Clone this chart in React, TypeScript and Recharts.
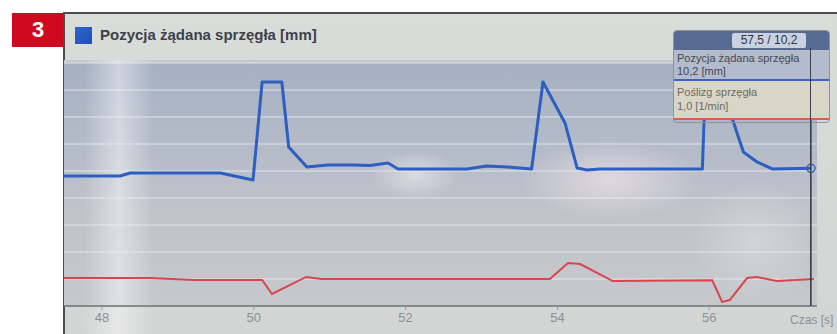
import { CartesianGrid, Line, LineChart, ReferenceDot, ReferenceLine, XAxis, YAxis } from "recharts";

const timeDomain: [number, number] = [47.5, 57.42];
const timeTicks = [48, 50, 52, 54, 56];
const positionTicks = [0, 2, 4, 6, 8, 10, 12, 14, 16, 18];

// Pozycja żądana sprzęgła [mm]
const positionSeries = [
  { t: 47.5, v: 9.63 },
  { t: 48.24, v: 9.63 },
  { t: 48.37, v: 9.85 },
  { t: 49.56, v: 9.85 },
  { t: 49.99, v: 9.33 },
  { t: 50.11, v: 16.59 },
  { t: 50.37, v: 16.59 },
  { t: 50.46, v: 11.78 },
  { t: 50.58, v: 11.04 },
  { t: 50.7, v: 10.3 },
  { t: 50.97, v: 10.44 },
  { t: 51.31, v: 10.44 },
  { t: 51.53, v: 10.4 },
  { t: 51.77, v: 10.59 },
  { t: 51.9, v: 10.15 },
  { t: 52.81, v: 10.15 },
  { t: 53.07, v: 10.37 },
  { t: 53.34, v: 10.3 },
  { t: 53.66, v: 10.15 },
  { t: 53.81, v: 16.59 },
  { t: 54.1, v: 13.56 },
  { t: 54.26, v: 10.22 },
  { t: 54.39, v: 10.07 },
  { t: 54.56, v: 10.15 },
  { t: 55.84, v: 10.15 },
  { t: 55.91, v: 10.15 },
  { t: 55.95, v: 16.6 },
  { t: 56.14, v: 16.6 },
  { t: 56.31, v: 13.78 },
  { t: 56.45, v: 11.41 },
  { t: 56.63, v: 10.67 },
  { t: 56.83, v: 10.15 },
  { t: 57.34, v: 10.2 },
];

// Poślizg sprzęgła [1/min]
const slipSeries = [
  { t: 47.5, v: 1.07 },
  { t: 48.63, v: 1.07 },
  { t: 49.21, v: 0.93 },
  { t: 50.11, v: 0.93 },
  { t: 50.24, v: -0.11 },
  { t: 50.69, v: 1.15 },
  { t: 50.89, v: 1.0 },
  { t: 53.9, v: 1.0 },
  { t: 54.14, v: 2.19 },
  { t: 54.3, v: 2.11 },
  { t: 54.73, v: 0.85 },
  { t: 56.04, v: 0.9 },
  { t: 56.17, v: -0.7 },
  { t: 56.27, v: -0.56 },
  { t: 56.5, v: 1.07 },
  { t: 56.63, v: 1.15 },
  { t: 56.89, v: 0.85 },
  { t: 57.38, v: 1.0 },
];

const cursorTime = 57.34;
const cursorValue = 10.2;
const cursorLabel = "57,5 / 10,2";
const badge = "3";
const title = "Pozycja żądana sprzęgła [mm]";
const positionTitle = "Pozycja żądana sprzęgła";
const slipTitle = "Poślizg sprzęgła";
const positionReadout = "10,2 [mm]";
const slipReadout = "1,0 [1/min]";
const axisTitle = "Czas [s]";

const FONT = "'Liberation Sans', Arial, sans-serif";
const PLOT = { left: 64, top: 63, right: 817, bottom: 306 };

const cursorX =
  PLOT.left + ((cursorTime - timeDomain[0]) / (timeDomain[1] - timeDomain[0])) * (PLOT.right - PLOT.left);

export default function App() {
  return (
    <div style={{ position: "fixed", left: 0, top: 0, width: 837, height: 334, background: "#fff", overflow: "hidden", fontFamily: FONT }}>
      <div style={{ position: "absolute", left: 12, top: 13, width: 52, height: 34, background: "#cf0a1f", color: "#fff", fontWeight: 700, fontSize: 22, lineHeight: "34px", textAlign: "center" }}>
        {badge}
      </div>

      {/* screen frame */}
      <div style={{ position: "absolute", left: 63, top: 12, width: 780, height: 330, background: "linear-gradient(#dadcd9, #d2d5d3)", borderTop: "2px solid #4c4c4c", borderLeft: "2px solid #4c4c4c" }} />

      <div style={{ position: "absolute", left: 75, top: 27, width: 17, height: 17, background: "linear-gradient(135deg, #2f63cf, #1f4fb8)" }} />
      <div style={{ position: "absolute", left: 100, top: 26, fontSize: 15, fontWeight: 700, color: "#3c414b", whiteSpace: "nowrap" }}>{title}</div>

      {/* plot background */}
      <div style={{ position: "absolute", left: PLOT.left, top: PLOT.top - 3, width: PLOT.right - PLOT.left, height: 3, background: "#c4c8cc" }} />
      <div style={{ position: "absolute", left: PLOT.left, top: PLOT.top, width: PLOT.right - PLOT.left, height: PLOT.bottom - PLOT.top, background: "linear-gradient(#a6b0c2 0%, #b2bac8 30%, #bfc3ca 60%, #c6c8cc 100%)" }} />

      {/* photo glare */}
      <div style={{ position: "absolute", left: 84, top: 60, width: 70, height: 274, background: "linear-gradient(90deg, rgba(255,255,255,0), rgba(255,255,255,0.45) 50%, rgba(255,255,255,0))" }} />
      <div style={{ position: "absolute", left: 520, top: 140, width: 180, height: 80, background: "radial-gradient(ellipse at center, rgba(250,232,240,0.6), rgba(250,232,240,0) 70%)" }} />
      <div style={{ position: "absolute", left: 370, top: 150, width: 90, height: 50, background: "radial-gradient(ellipse at center, rgba(255,255,255,0.45), rgba(255,255,255,0) 70%)" }} />
      <div style={{ position: "absolute", left: 690, top: 180, width: 130, height: 120, background: "radial-gradient(ellipse at center, rgba(235,235,232,0.4), rgba(235,235,232,0) 70%)" }} />

      <div style={{ position: "absolute", left: 0, top: 0 }}>
        <LineChart width={837} height={334} margin={{ top: PLOT.top, left: PLOT.left, right: 837 - PLOT.right, bottom: 0 }}>
          <CartesianGrid yAxisId="pos" vertical={false} stroke="#e8ecf2" strokeOpacity={0.85} strokeWidth={1.2} />
          <XAxis
            type="number"
            dataKey="t"
            domain={timeDomain}
            ticks={timeTicks}
            allowDataOverflow
            height={28}
            axisLine={{ stroke: "#6a6e72", strokeWidth: 1.5 }}
            tickLine={{ stroke: "#9a9ea2" }}
            tickSize={4}
            tickMargin={3}
            tick={{ fill: "#8c9196", fontSize: 13, fontFamily: FONT }}
          />
          <YAxis yAxisId="pos" hide domain={[0, 18]} ticks={positionTicks} allowDataOverflow />
          <YAxis yAxisId="slip" hide orientation="right" domain={[-1, 17]} allowDataOverflow />
          <Line yAxisId="slip" data={slipSeries} dataKey="v" type="linear" stroke="#d8454f" strokeWidth={2} dot={false} isAnimationActive={false} />
          <Line yAxisId="pos" data={positionSeries} dataKey="v" type="linear" stroke="#2e5ec0" strokeWidth={3} strokeLinejoin="round" dot={false} isAnimationActive={false} />
          <ReferenceLine yAxisId="pos" x={cursorTime} stroke="#3d4048" strokeWidth={1.5} />
          <ReferenceDot yAxisId="pos" x={cursorTime} y={cursorValue} r={4} fill="none" stroke="#3a5fb8" strokeWidth={1.5} />
        </LineChart>
      </div>

      <div style={{ position: "absolute", left: 790, top: 313, fontSize: 12, color: "#8c9196", whiteSpace: "nowrap" }}>{axisTitle}</div>

      {/* readout box */}
      <div style={{ position: "absolute", left: 673, top: 30, width: 155, height: 91, borderRadius: 4, overflow: "hidden", border: "1px solid #8d929c", fontSize: 11, color: "#444852" }}>
        <div style={{ height: 19, background: "#566a92", position: "relative" }}>
          <div style={{ position: "absolute", left: 74, top: 4, width: 0, height: 0, borderLeft: "4px solid transparent", borderRight: "4px solid transparent", borderBottom: "4px solid #aab6cf" }} />
        </div>
        <div style={{ height: 31, background: "#b3bccc", borderBottom: "2px solid #3a63c2", padding: "2px 0 0 3px", boxSizing: "border-box", lineHeight: "13px" }}>
          <div style={{ whiteSpace: "nowrap" }}>{positionTitle}</div>
          <div>{positionReadout}</div>
        </div>
        <div style={{ height: 39, background: "#d9d6c8", borderBottom: "2px solid #e05a50", padding: "4px 0 0 3px", boxSizing: "border-box", lineHeight: "14px", color: "#6d6a62" }}>
          <div style={{ whiteSpace: "nowrap" }}>{slipTitle}</div>
          <div>{slipReadout}</div>
        </div>
      </div>
      <div style={{ position: "absolute", left: cursorX - 1, top: 48, width: 1.5, height: PLOT.bottom - 48, background: "#3d4048" }} />
      <div style={{ position: "absolute", left: 732, top: 33, width: 74, height: 15, background: "#cbd2df", borderRadius: 2, fontSize: 12, lineHeight: "15px", textAlign: "center", color: "#2e3340", whiteSpace: "nowrap" }}>
        {cursorLabel}
      </div>
    </div>
  );
}
